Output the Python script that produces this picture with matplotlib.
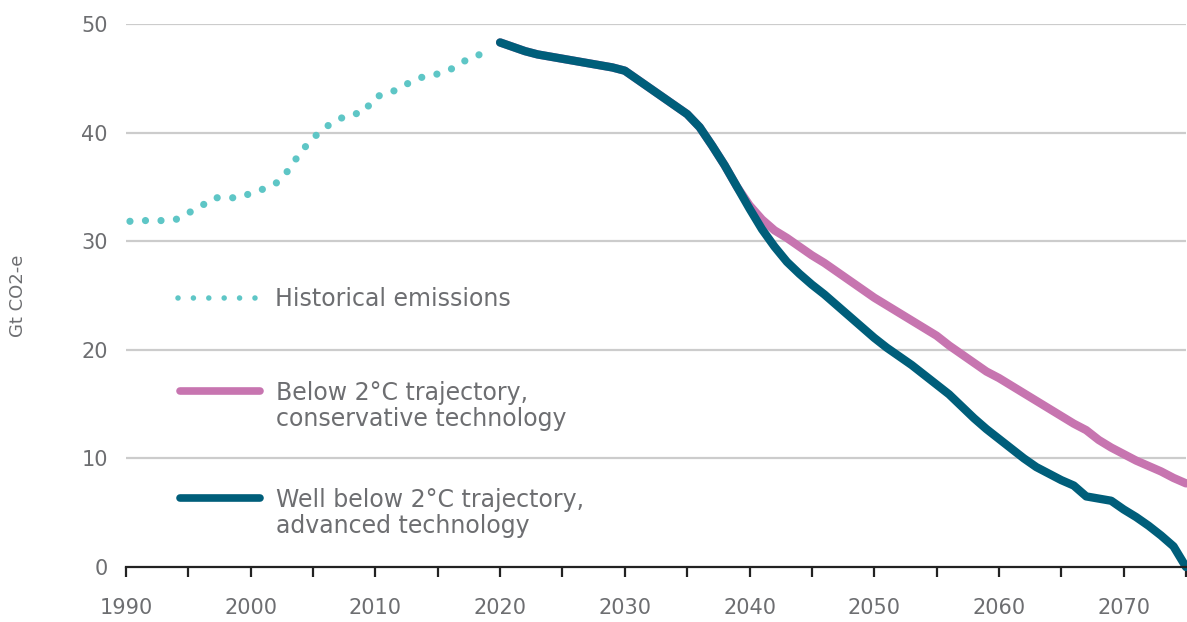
import matplotlib
matplotlib.use('Agg')  # non-interactive backend
import matplotlib.pyplot as plt

plt.rcParams['font.family'] = ['DejaVu Sans']

# Historical emissions, 1990-2019 (Gt CO2-e)
hist_years = list(range(1990, 2020))
hist_values = [31.8, 31.9, 31.9, 31.9, 32.0, 32.6, 33.2, 34.0, 34.0, 34.0,
               34.4, 34.8, 35.3, 36.5, 38.2, 39.5, 40.5, 41.2, 41.7, 41.8,
               43.3, 43.6, 44.1, 44.8, 45.2, 45.4, 45.8, 46.5, 47.1, 47.3]

# Projections, 2020-2075
proj_years = list(range(2020, 2076))
advanced = [48.3, 47.9, 47.5, 47.2, 47.0, 46.8, 46.6, 46.4, 46.2, 46.0,
            45.7, 44.9, 44.1, 43.3, 42.5, 41.7, 40.5, 38.8, 37.0, 35.0,
            33.0, 31.1, 29.5, 28.1, 27.0, 26.0, 25.1, 24.1, 23.1, 22.1,
            21.1, 20.2, 19.4, 18.6, 17.7, 16.8, 15.9, 14.8, 13.7, 12.7,
            11.8, 10.9, 10.0, 9.2, 8.6, 8.0, 7.5, 6.5, 6.3, 6.1,
            5.3, 4.6, 3.8, 2.9, 1.9, 0.0]
conservative = [48.3, 47.9, 47.5, 47.2, 47.0, 46.8, 46.6, 46.4, 46.2, 46.0,
                45.7, 44.9, 44.1, 43.3, 42.5, 41.7, 40.5, 38.8, 37.0, 35.0,
                33.3, 32.0, 31.0, 30.3, 29.5, 28.7, 28.0, 27.2, 26.4, 25.6,
                24.8, 24.1, 23.4, 22.7, 22.0, 21.3, 20.4, 19.6, 18.8, 18.0,
                17.4, 16.7, 16.0, 15.3, 14.6, 13.9, 13.2, 12.6, 11.7, 11.0,
                10.4, 9.8, 9.3, 8.8, 8.2, 7.7]

legend_labels = ['Historical emissions',
                 'Below 2°C trajectory,\nconservative technology',
                 'Well below 2°C trajectory,\nadvanced technology']

teal = '#5EC6C6'
pink = '#C775B0'
navy = '#005E7A'
grey_text = '#6D6E71'

fig = plt.figure(figsize=(11.87, 6.22), dpi=100)
ax = fig.add_axes([126 / 1187, 55 / 622, 1060 / 1187, 543 / 622])

# gridlines
for v in [10, 20, 30, 40, 50]:
    ax.axhline(v, color='#CCCCCC', lw=1.6, zorder=0)

ax.plot(hist_years, hist_values, color=teal, lw=5.2,
        linestyle=(1.6, (0.001, 2.15)), dash_capstyle='round', clip_on=False)
ax.plot(proj_years, conservative, color=pink, lw=6.0,
        solid_capstyle='round', solid_joinstyle='round', clip_on=False)
ax.plot(proj_years, advanced, color=navy, lw=6.0,
        solid_capstyle='round', solid_joinstyle='round', clip_on=False)

ax.set_xlim(1990, 2075)
ax.set_ylim(0, 50)

for s in ['top', 'right', 'left']:
    ax.spines[s].set_visible(False)
ax.spines['bottom'].set_color('#222222')
ax.spines['bottom'].set_linewidth(1.6)

ax.set_xticks(range(1990, 2076, 5))
ax.set_xticklabels([str(y) if y % 10 == 0 else '' for y in range(1990, 2076, 5)])
ax.set_yticks([0, 10, 20, 30, 40, 50])
ax.tick_params(axis='x', direction='out', length=7, width=1.6, color='#222222',
               labelsize=15, labelcolor=grey_text, pad=15)
ax.tick_params(axis='y', length=0, labelsize=15, labelcolor=grey_text, pad=13)
ax.set_ylabel('Gt CO2-e', fontsize=13, color=grey_text, labelpad=39)

# legend drawn by hand, in axes fraction
def fx(px):
    return (px - 126) / 1060

def fy(py):
    return (567 - py) / 543

ax.plot([fx(178), fx(258)], [fy(298), fy(298)], transform=ax.transAxes,
        color=teal, lw=4.0, linestyle=(0, (0.001, 2.77)), dash_capstyle='round',
        clip_on=False)
ax.plot([fx(180), fx(260)], [fy(391), fy(391)], transform=ax.transAxes,
        color=pink, lw=5.5, solid_capstyle='round', clip_on=False)
ax.plot([fx(180), fx(260)], [fy(498), fy(498)], transform=ax.transAxes,
        color=navy, lw=5.5, solid_capstyle='round', clip_on=False)

ax.text(fx(275), fy(299), legend_labels[0], transform=ax.transAxes,
        fontsize=17, color=grey_text, va='center', ha='left')
ax.text(fx(276), fy(406), legend_labels[1], transform=ax.transAxes,
        fontsize=17, color=grey_text, va='center', ha='left', linespacing=1.1)
ax.text(fx(276), fy(513), legend_labels[2], transform=ax.transAxes,
        fontsize=17, color=grey_text, va='center', ha='left', linespacing=1.1)

fig.savefig('out.png', dpi=100)
